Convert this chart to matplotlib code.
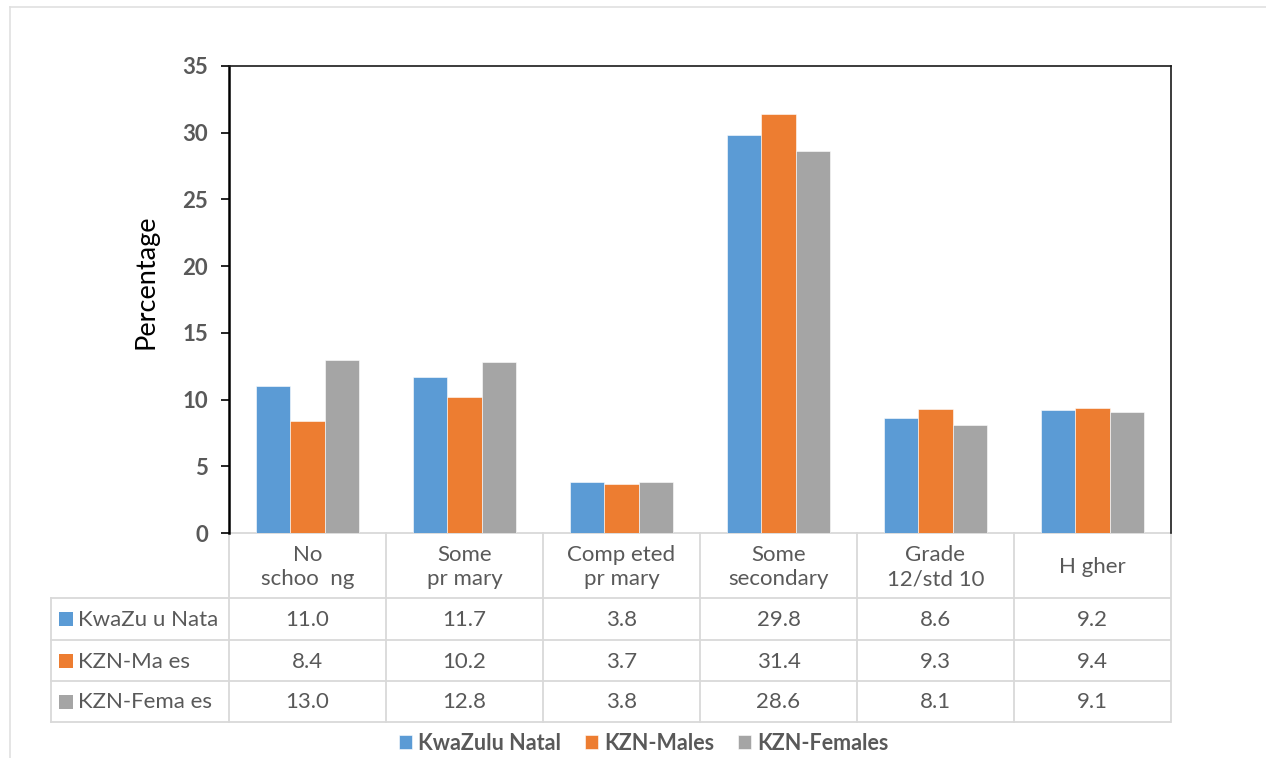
import matplotlib.pyplot as plt
import matplotlib.transforms as mtransforms
from matplotlib.patches import Rectangle
import numpy as np

plt.rcParams['font.family'] = ['Lato', 'DejaVu Sans']

# Education level categories (header text as printed in the table)
categories = ["No\nschoo  ng", "Some\npr mary", "Comp eted\npr mary",
              "Some\nsecondary", "Grade\n12/std 10", "H gher"]
series_names = ["KwaZulu Natal", "KZN-Males", "KZN-Females"]
row_labels = ["KwaZu u Nata", "KZN-Ma es", "KZN-Fema es"]
kzn_total = [11.0, 11.7, 3.8, 29.8, 8.6, 9.2]
kzn_males = [8.4, 10.2, 3.7, 31.4, 9.3, 9.4]
kzn_females = [13.0, 12.8, 3.8, 28.6, 8.1, 9.1]
y_ticks = [0, 5, 10, 15, 20, 25, 30, 35]

colors = ["#5B9BD5", "#ED7D31", "#A5A5A5"]
text_grey = "#595959"
line_grey = "#D9D9D9"

W, H = 1266, 758
fig = plt.figure(figsize=(W / 100, H / 100), dpi=100)

# Overlay in pixel coordinates for the frame and the data table
over = fig.add_axes([0, 0, 1, 1], zorder=0)
over.set_xlim(0, W)
over.set_ylim(H, 0)
over.axis('off')

# Light outer frame
over.plot([10, W], [7, 7], color="#E0E0E0", lw=1.2)
over.plot([10, 10], [7, H], color="#E0E0E0", lw=1.2)

# Main bar chart
L, R, T, B = 229, 1171, 66, 533
ax = fig.add_axes([L / W, 1 - B / H, (R - L) / W, (B - T) / H], zorder=2)
ax.patch.set_alpha(0)
x = np.arange(len(categories))
bw = 0.22
series = [kzn_total, kzn_males, kzn_females]
bars = []
for i, (vals, c, name) in enumerate(zip(series, colors, series_names)):
    b = ax.bar(x + (i - 1) * bw, vals, width=bw, color=c, label=name,
               edgecolor='white', linewidth=0.4)
    bars.append(b)

ax.set_xlim(-0.5, len(categories) - 0.5)
ax.set_ylim(0, 35)
ax.set_yticks(y_ticks)
ax.set_xticks([])
for lab in ax.get_yticklabels():
    lab.set_fontweight('bold')
ax.tick_params(axis='y', direction='out', length=6, width=1.2,
               labelsize=16, labelcolor=text_grey, pad=9)
ax.spines['left'].set_linewidth(1.8)
ax.spines['left'].set_color('black')
ax.spines['top'].set_linewidth(1.2)
ax.spines['right'].set_linewidth(1.2)
ax.spines['top'].set_color('#1a1a1a')
ax.spines['right'].set_color('#1a1a1a')
ax.spines['bottom'].set_visible(False)
ax.set_ylabel("Percentage", fontsize=19.5, color='black', va='center')
ax.yaxis.set_label_coords(-0.088, 0.537)

# Data table under the axis: x follows the bar axis, y in pixels
tr = mtransforms.blended_transform_factory(ax.transData, over.transData)
x0, x1 = -0.5, len(categories) - 0.5
row_edges = [533, 598, 640, 681, 722]
lw_t = 1.3
# horizontal lines across data columns
for y in row_edges:
    over.plot([x0, x1], [y, y], color=line_grey, lw=lw_t, transform=tr,
              solid_capstyle='butt')
# vertical column lines
for k in range(len(categories) + 1):
    over.plot([x0 + k, x0 + k], [533, 722], color=line_grey, lw=lw_t,
              transform=tr)
# label column
lab_left = 51
for y in row_edges[1:]:
    over.plot([lab_left, 229], [y, y], color=line_grey, lw=lw_t)
over.plot([lab_left, lab_left], [598, 722], color=line_grey, lw=lw_t)

# header text
for k, cat in enumerate(categories):
    over.text(k, 567, cat, transform=tr, ha='center', va='center',
              fontsize=16, color=text_grey, linespacing=1.28)

# rows
for r, (vals, c, rl) in enumerate(zip(series, colors, row_labels)):
    yc = (row_edges[r + 1] + row_edges[r + 2]) / 2
    over.add_patch(Rectangle((59, yc - 7), 14, 14, color=c, lw=0))
    over.text(78, yc + 1, rl, ha='left', va='center', fontsize=16,
              color=text_grey)
    for k, v in enumerate(vals):
        over.text(k, yc + 1, f"{v:.1f}", transform=tr, ha='center',
                  va='center', fontsize=16, color=text_grey)

# Legend
leg = fig.legend(handles=bars, labels=series_names, loc='center',
                 bbox_to_anchor=(644 / W, 1 - 743 / H), ncol=3, frameon=False,
                 prop={'weight': 'bold', 'size': 15.5}, handlelength=0.6,
                 handleheight=0.6, handletextpad=0.3, columnspacing=1.1)
for t in leg.get_texts():
    t.set_color(text_grey)

fig.savefig("out.png", dpi=100)
